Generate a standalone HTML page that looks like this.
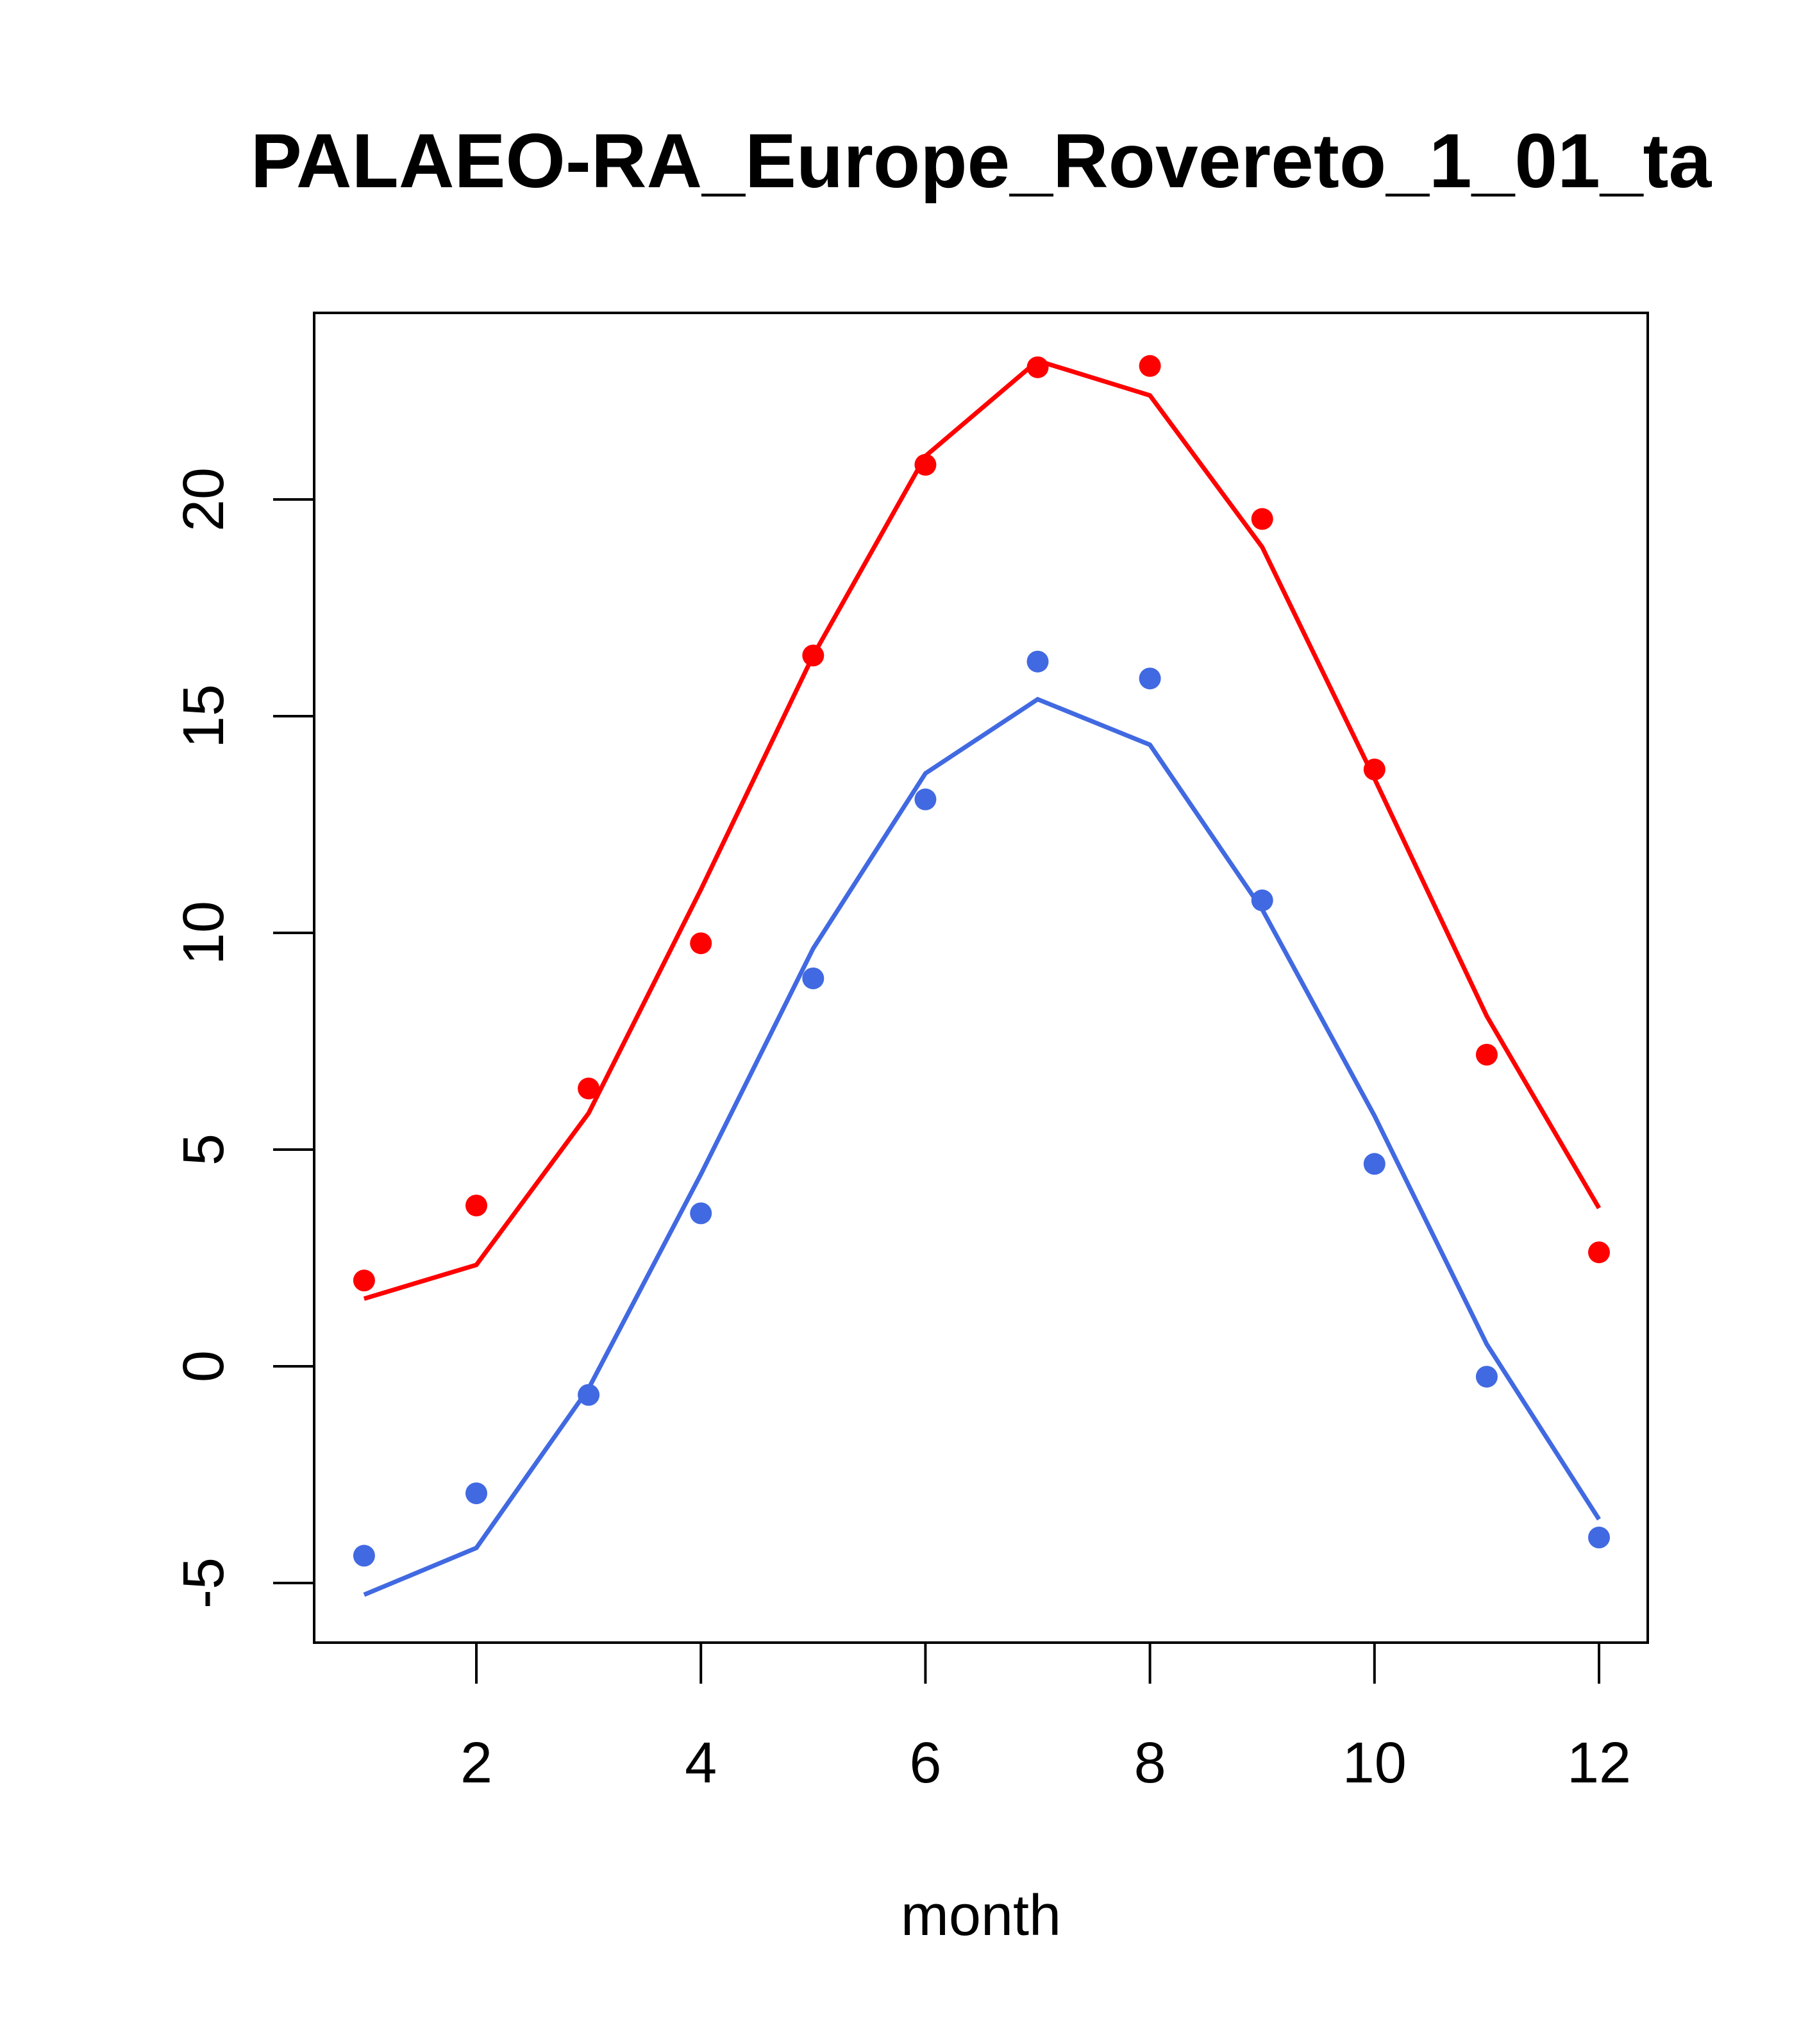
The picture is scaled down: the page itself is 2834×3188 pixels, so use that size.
<!DOCTYPE html>
<html><head><meta charset="utf-8"><style>html,body{margin:0;padding:0;background:#fff}svg{display:block}</style></head>
<body>
<svg id="chart" width="2834" height="3188" viewBox="0 0 2834 3188" xmlns="http://www.w3.org/2000/svg" font-family="Liberation Sans, sans-serif">
<text x="1530" y="292" font-size="120" font-weight="bold" text-anchor="middle">PALAEO-RA_Europe_Rovereto_1_01_ta</text>
<rect x="490" y="488" width="2080" height="2074" fill="none" stroke="#000" stroke-width="4"/>
<text x="1530" y="3018" font-size="90" text-anchor="middle">month</text>
<g id="axes"></g>
<g id="series"></g>
</svg>
<script>
const months = [1,2,3,4,5,6,7,8,9,10,11,12];
const redPoints = [1.98,3.71,6.41,9.76,16.4,20.8,23.05,23.08,19.55,13.77,7.19,2.63];
const redLine = [1.56,2.34,5.84,11.0,16.4,21.0,23.2,22.4,18.9,13.56,8.08,3.65];
const bluePoints = [-4.37,-2.93,-0.66,3.53,8.95,13.08,16.26,15.87,10.75,4.67,-0.24,-3.95];
const blueLine = [-5.27,-4.19,-0.51,4.43,9.64,13.68,15.39,14.34,10.54,5.78,0.51,-3.53];
const xTicks = [2,4,6,8,10,12];
const yTicks = [-5,0,5,10,15,20];

const NS = "http://www.w3.org/2000/svg";
function xs(m){ return 743 + (m-2)*175.1; }
function ys(v){ return 2131 - v*67.6; }
const axes = document.getElementById('axes');
const series = document.getElementById('series');
function mk(tag, attrs, parent){ const e=document.createElementNS(NS,tag); for(const k in attrs) e.setAttribute(k,attrs[k]); parent.appendChild(e); return e; }

xTicks.forEach(t=>{
  const l = mk('line',{x1:xs(t),x2:xs(t),y1:2562,y2:2626,stroke:'#000','stroke-width':4},axes);
  
  
  const tx = mk('text',{x:xs(t),y:2780,'font-size':90,'text-anchor':'middle'},axes);
  tx.textContent = t;
  
  
});
yTicks.forEach(t=>{
  const l = mk('line',{x1:426,x2:490,y1:ys(t),y2:ys(t),stroke:'#000','stroke-width':4},axes);
  
  
  const tx = mk('text',{x:0,y:0,'font-size':90,'text-anchor':'middle',transform:`translate(348,${ys(t)}) rotate(-90)`},axes);
  tx.textContent = t;
  
  
});

function drawLine(vals,color,name){
  const p = mk('polyline',{points:vals.map((v,i)=>xs(months[i])+','+ys(v)).join(' '),fill:'none',stroke:color,'stroke-width':7},series);
  
  
}
function drawPts(vals,color,name){
  vals.forEach((v,i)=>{
    const c = mk('circle',{cx:xs(months[i]),cy:ys(v),r:17,fill:color},series);
    
    
  });
}
drawLine(redLine,'#ff0000','red-line');
drawLine(blueLine,'#4169e1','blue-line');
drawPts(redPoints,'#ff0000','red-point');
drawPts(bluePoints,'#4169e1','blue-point');
</script>
</body></html>
